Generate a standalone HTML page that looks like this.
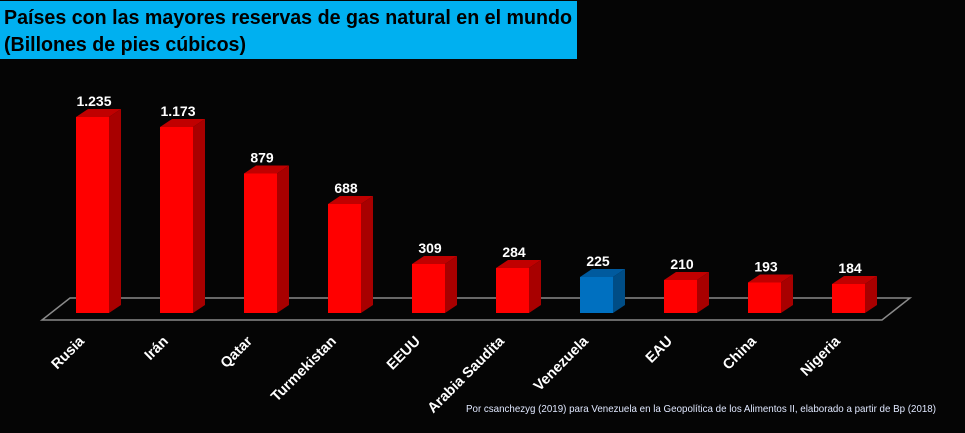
<!DOCTYPE html>
<html><head><meta charset="utf-8"><style>
html,body{margin:0;padding:0;background:#000;}
svg{display:block;}
</style></head><body>
<svg width="965" height="433" viewBox="0 0 965 433" xmlns="http://www.w3.org/2000/svg" font-family="Liberation Sans, Arial, sans-serif">
<rect x="0" y="0" width="965" height="433" fill="#050505"/>
<rect x="0" y="1" width="577" height="58" fill="#00b0f0"/>
<text x="4" y="24" font-size="20" font-weight="bold" fill="#000" textLength="568" lengthAdjust="spacingAndGlyphs">Países con las mayores reservas de gas natural en el mundo</text>
<text x="4" y="51" font-size="20" font-weight="bold" fill="#000" textLength="242" lengthAdjust="spacingAndGlyphs">(Billones de pies cúbicos)</text>
<polygon points="70,298 910,298 882,320 42,320" fill="none" stroke="#8a8a8a" stroke-width="1.5"/>

<g transform="translate(76,0)"><polygon points="0,117 12,109 45,109 33,117" fill="#c00000"/><polygon points="33,117 45,109 45,305 33,313" fill="#a80000"/><rect x="0" y="117" width="33" height="196" fill="#ff0000"/><text x="18" y="106" font-size="14" font-weight="bold" fill="#fff" text-anchor="middle">1.235</text><text transform="translate(9,342) rotate(-45)" font-size="14.5" font-weight="bold" fill="#fff" text-anchor="end">Rusia</text></g>

<g transform="translate(160,0)"><polygon points="0,127 12,119 45,119 33,127" fill="#c00000"/><polygon points="33,127 45,119 45,305 33,313" fill="#a80000"/><rect x="0" y="127" width="33" height="186" fill="#ff0000"/><text x="18" y="116" font-size="14" font-weight="bold" fill="#fff" text-anchor="middle">1.173</text><text transform="translate(9,342) rotate(-45)" font-size="14.5" font-weight="bold" fill="#fff" text-anchor="end">Irán</text></g>

<g transform="translate(244,0)"><polygon points="0,173.5 12,165.5 45,165.5 33,173.5" fill="#c00000"/><polygon points="33,173.5 45,165.5 45,305 33,313" fill="#a80000"/><rect x="0" y="173.5" width="33" height="139.5" fill="#ff0000"/><text x="18" y="162.5" font-size="14" font-weight="bold" fill="#fff" text-anchor="middle">879</text><text transform="translate(9,342) rotate(-45)" font-size="14.5" font-weight="bold" fill="#fff" text-anchor="end">Qatar</text></g>

<g transform="translate(328,0)"><polygon points="0,204 12,196 45,196 33,204" fill="#c00000"/><polygon points="33,204 45,196 45,305 33,313" fill="#a80000"/><rect x="0" y="204" width="33" height="109" fill="#ff0000"/><text x="18" y="193" font-size="14" font-weight="bold" fill="#fff" text-anchor="middle">688</text><text transform="translate(9,342) rotate(-45)" font-size="14.5" font-weight="bold" fill="#fff" text-anchor="end">Turmekistan</text></g>

<g transform="translate(412,0)"><polygon points="0,264 12,256 45,256 33,264" fill="#c00000"/><polygon points="33,264 45,256 45,305 33,313" fill="#a80000"/><rect x="0" y="264" width="33" height="49" fill="#ff0000"/><text x="18" y="253" font-size="14" font-weight="bold" fill="#fff" text-anchor="middle">309</text><text transform="translate(9,342) rotate(-45)" font-size="14.5" font-weight="bold" fill="#fff" text-anchor="end">EEUU</text></g>

<g transform="translate(496,0)"><polygon points="0,268 12,260 45,260 33,268" fill="#c00000"/><polygon points="33,268 45,260 45,305 33,313" fill="#a80000"/><rect x="0" y="268" width="33" height="45" fill="#ff0000"/><text x="18" y="257" font-size="14" font-weight="bold" fill="#fff" text-anchor="middle">284</text><text transform="translate(9,342) rotate(-45)" font-size="14.5" font-weight="bold" fill="#fff" text-anchor="end">Arabia Saudita</text></g>

<g transform="translate(580,0)"><polygon points="0,277 12,269 45,269 33,277" fill="#005a9e"/><polygon points="33,277 45,269 45,305 33,313" fill="#004d86"/><rect x="0" y="277" width="33" height="36" fill="#0070c0"/><text x="18" y="266" font-size="14" font-weight="bold" fill="#fff" text-anchor="middle">225</text><text transform="translate(9,342) rotate(-45)" font-size="14.5" font-weight="bold" fill="#fff" text-anchor="end">Venezuela</text></g>

<g transform="translate(664,0)"><polygon points="0,280 12,272 45,272 33,280" fill="#c00000"/><polygon points="33,280 45,272 45,305 33,313" fill="#a80000"/><rect x="0" y="280" width="33" height="33" fill="#ff0000"/><text x="18" y="269" font-size="14" font-weight="bold" fill="#fff" text-anchor="middle">210</text><text transform="translate(9,342) rotate(-45)" font-size="14.5" font-weight="bold" fill="#fff" text-anchor="end">EAU</text></g>

<g transform="translate(748,0)"><polygon points="0,282.5 12,274.5 45,274.5 33,282.5" fill="#c00000"/><polygon points="33,282.5 45,274.5 45,305 33,313" fill="#a80000"/><rect x="0" y="282.5" width="33" height="30.5" fill="#ff0000"/><text x="18" y="271.5" font-size="14" font-weight="bold" fill="#fff" text-anchor="middle">193</text><text transform="translate(9,342) rotate(-45)" font-size="14.5" font-weight="bold" fill="#fff" text-anchor="end">China</text></g>

<g transform="translate(832,0)"><polygon points="0,284 12,276 45,276 33,284" fill="#c00000"/><polygon points="33,284 45,276 45,305 33,313" fill="#a80000"/><rect x="0" y="284" width="33" height="29" fill="#ff0000"/><text x="18" y="273" font-size="14" font-weight="bold" fill="#fff" text-anchor="middle">184</text><text transform="translate(9,342) rotate(-45)" font-size="14.5" font-weight="bold" fill="#fff" text-anchor="end">Nigeria</text></g>

<text x="936" y="412" font-size="10.5" fill="#e0e8ff" text-anchor="end" textLength="470" lengthAdjust="spacingAndGlyphs">Por csanchezyg (2019) para Venezuela en la Geopolítica de los Alimentos II, elaborado a partir de Bp (2018)</text>
</svg>
</body></html>
